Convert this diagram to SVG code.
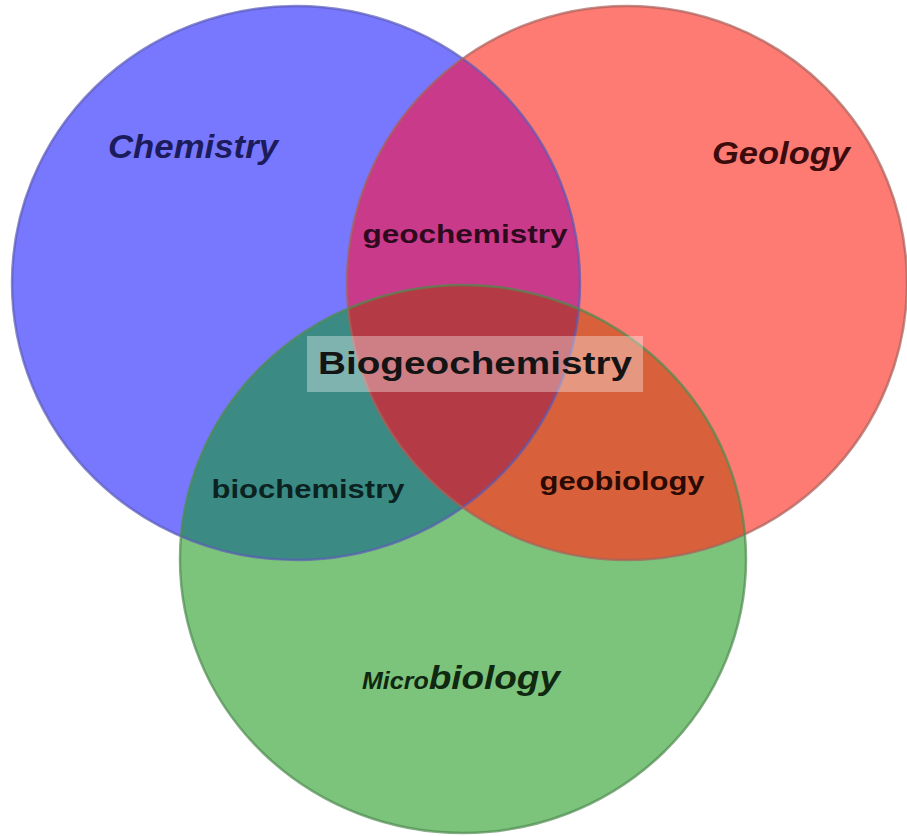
<svg xmlns="http://www.w3.org/2000/svg" width="907" height="836" viewBox="0 0 907 836">
  <style>
    .lbl { font-family: "Liberation Sans", Arial, sans-serif; font-weight: bold; text-anchor: middle; }
    .it { font-style: italic; }
    .edge { fill: none; stroke-width: 2.5; }
  </style>
  <defs>
    <clipPath id="clipBlue"><ellipse cx="296" cy="283" rx="284" ry="277"/></clipPath>
    <clipPath id="clipRed"><ellipse cx="627" cy="283" rx="280" ry="277"/></clipPath>
  </defs>
  <rect width="907" height="836" fill="#ffffff"/>

  <g id="chemistry">
    <ellipse cx="296" cy="283" rx="284" ry="277" fill="#7878fe"/>
  </g>
  <g id="geology">
    <ellipse cx="627" cy="283" rx="280" ry="277" fill="#fe7b73"/>
  </g>
  <g id="microbiology">
    <ellipse cx="463" cy="559" rx="283" ry="274" fill="#7cc47c"/>
  </g>
  <g id="geochemistry">
    <ellipse cx="627" cy="283" rx="280" ry="277" fill="#c93a8b" clip-path="url(#clipBlue)"/>
  </g>
  <g id="biochemistry">
    <ellipse cx="463" cy="559" rx="283" ry="274" fill="#3b8b84" clip-path="url(#clipBlue)"/>
  </g>
  <g id="geobiology">
    <ellipse cx="463" cy="559" rx="283" ry="274" fill="#d8613b" clip-path="url(#clipRed)"/>
  </g>
  <g id="biogeochemistry">
    <g clip-path="url(#clipBlue)">
      <ellipse cx="463" cy="559" rx="283" ry="274" fill="#b43b45" clip-path="url(#clipRed)"/>
    </g>
  </g>

  <g id="outlines">
    <ellipse class="edge" cx="296" cy="283" rx="284" ry="277" stroke="#5a5ab8" stroke-opacity="0.7"/>
    <ellipse class="edge" cx="627" cy="283" rx="280" ry="277" stroke="#a8605a" stroke-opacity="0.7"/>
    <ellipse class="edge" cx="463" cy="559" rx="283" ry="274" stroke="#4e8a50" stroke-opacity="0.7"/>
  </g>

  <g id="labels">
    <text class="lbl it" x="193" y="158" font-size="33" fill="#1c1c5c" textLength="170" lengthAdjust="spacingAndGlyphs">Chemistry</text>
    <text class="lbl it" x="781" y="164" font-size="31" fill="#3c0c0c" textLength="138" lengthAdjust="spacingAndGlyphs">Geology</text>
    <text class="lbl" x="465" y="243" font-size="25" fill="#2e0a1e" textLength="205" lengthAdjust="spacingAndGlyphs">geochemistry</text>
    <rect x="307" y="336" width="336" height="56" fill="#ffffff" fill-opacity="0.35"/>
    <text class="lbl" x="475" y="374" font-size="32" fill="#141414" textLength="314" lengthAdjust="spacingAndGlyphs">Biogeochemistry</text>
    <text class="lbl" x="308" y="498" font-size="25" fill="#0c2220" textLength="193" lengthAdjust="spacingAndGlyphs">biochemistry</text>
    <text class="lbl" x="622" y="490" font-size="25" fill="#2a0a04" textLength="165" lengthAdjust="spacingAndGlyphs">geobiology</text>
    <text class="lbl it" x="461" y="689" fill="#102810" textLength="198" lengthAdjust="spacingAndGlyphs"><tspan font-size="23">Micro</tspan><tspan font-size="34">biology</tspan></text>
  </g>
</svg>
